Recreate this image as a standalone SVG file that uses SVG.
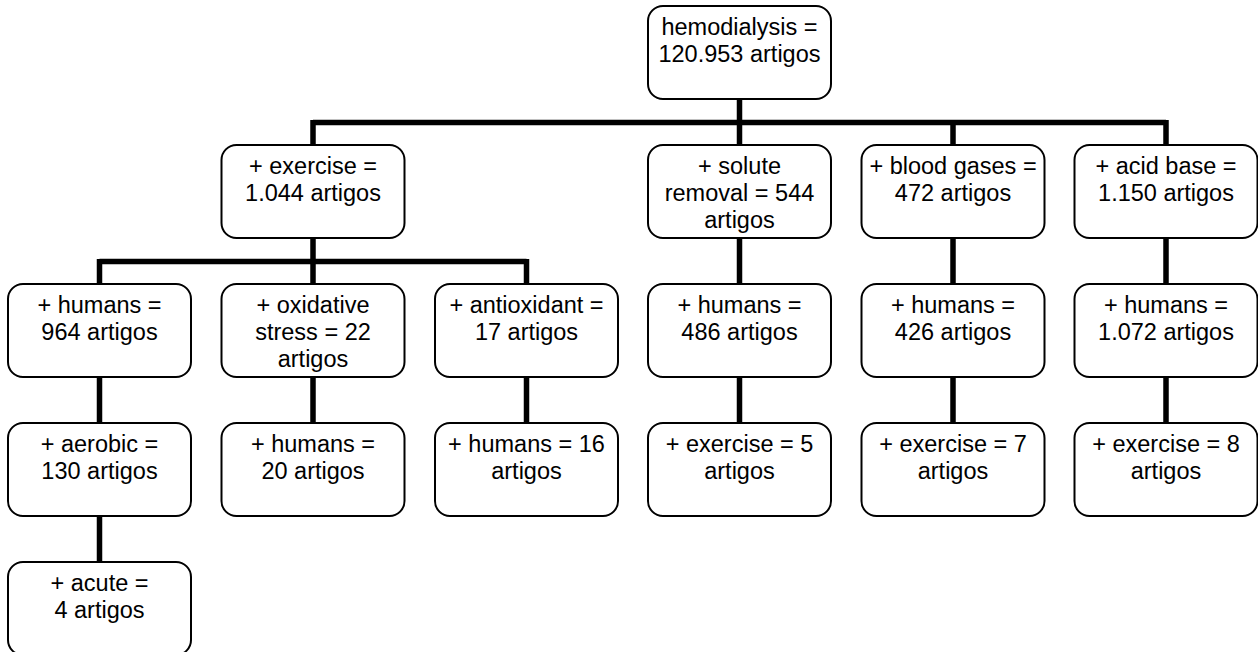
<svg xmlns="http://www.w3.org/2000/svg" width="1258" height="652" viewBox="0 0 1258 652">
<style>
.box{fill:#fff;stroke:#000;stroke-width:2}
.t{font-family:"Liberation Sans",Arial,sans-serif;font-size:23.5px;text-anchor:middle;fill:#000}
.c{fill:none;stroke:#000;stroke-width:5.5;stroke-linecap:butt}
</style>
<rect width="1258" height="652" fill="#fff"/>
<g id="connectors">
<path class="c" d="M739.5 99V122.5M313 122.5H1166M313 120V145M739.5 122.5V145M953 122.5V145M1166 120V145"/>
<path class="c" d="M313 238V261.5M99.5 261.5H526.5M99.5 259V284M313 261.5V284M526.5 259V284"/>
<path class="c" d="M99.5 377V423M99.5 516V562M313 377V423M526.5 377V423"/>
<path class="c" d="M739.5 238V284M739.5 377V423M953 238V284M953 377V423M1166 238V284M1166 377V423"/>
</g>
<g id="n-root"><rect class="box" x="648" y="6" width="183" height="93" rx="15"/><text class="t" x="739.5" y="35">hemodialysis =</text><text class="t" x="739.5" y="62">120.953 artigos</text></g>
<g id="n-exercise"><rect class="box" x="221.5" y="145" width="183" height="93" rx="15"/><text class="t" x="313" y="174">+ exercise =</text><text class="t" x="313" y="201">1.044 artigos</text></g>
<g id="n-solute"><rect class="box" x="648" y="145" width="183" height="93" rx="15"/><text class="t" x="739.5" y="174">+ solute</text><text class="t" x="739.5" y="201">removal = 544</text><text class="t" x="739.5" y="228">artigos</text></g>
<g id="n-blood"><rect class="box" x="861.5" y="145" width="183" height="93" rx="15"/><text class="t" x="953" y="174">+ blood gases =</text><text class="t" x="953" y="201">472 artigos</text></g>
<g id="n-acid"><rect class="box" x="1074.5" y="145" width="183" height="93" rx="15"/><text class="t" x="1166" y="174">+ acid base =</text><text class="t" x="1166" y="201">1.150 artigos</text></g>
<g id="n-humans1"><rect class="box" x="8" y="284" width="183" height="93" rx="15"/><text class="t" x="99.5" y="313">+ humans =</text><text class="t" x="99.5" y="340">964 artigos</text></g>
<g id="n-oxid"><rect class="box" x="221.5" y="284" width="183" height="93" rx="15"/><text class="t" x="313" y="313">+ oxidative</text><text class="t" x="313" y="340">stress = 22</text><text class="t" x="313" y="367">artigos</text></g>
<g id="n-antiox"><rect class="box" x="435" y="284" width="183" height="93" rx="15"/><text class="t" x="526.5" y="313">+ antioxidant =</text><text class="t" x="526.5" y="340">17 artigos</text></g>
<g id="n-humans-solute"><rect class="box" x="648" y="284" width="183" height="93" rx="15"/><text class="t" x="739.5" y="313">+ humans =</text><text class="t" x="739.5" y="340">486 artigos</text></g>
<g id="n-humans-blood"><rect class="box" x="861.5" y="284" width="183" height="93" rx="15"/><text class="t" x="953" y="313">+ humans =</text><text class="t" x="953" y="340">426 artigos</text></g>
<g id="n-humans-acid"><rect class="box" x="1074.5" y="284" width="183" height="93" rx="15"/><text class="t" x="1166" y="313">+ humans =</text><text class="t" x="1166" y="340">1.072 artigos</text></g>
<g id="n-aerobic"><rect class="box" x="8" y="423" width="183" height="93" rx="15"/><text class="t" x="99.5" y="452">+ aerobic =</text><text class="t" x="99.5" y="479">130 artigos</text></g>
<g id="n-humans-oxid"><rect class="box" x="221.5" y="423" width="183" height="93" rx="15"/><text class="t" x="313" y="452">+ humans =</text><text class="t" x="313" y="479">20 artigos</text></g>
<g id="n-humans-antiox"><rect class="box" x="435" y="423" width="183" height="93" rx="15"/><text class="t" x="526.5" y="452">+ humans = 16</text><text class="t" x="526.5" y="479">artigos</text></g>
<g id="n-ex-solute"><rect class="box" x="648" y="423" width="183" height="93" rx="15"/><text class="t" x="739.5" y="452">+ exercise = 5</text><text class="t" x="739.5" y="479">artigos</text></g>
<g id="n-ex-blood"><rect class="box" x="861.5" y="423" width="183" height="93" rx="15"/><text class="t" x="953" y="452">+ exercise = 7</text><text class="t" x="953" y="479">artigos</text></g>
<g id="n-ex-acid"><rect class="box" x="1074.5" y="423" width="183" height="93" rx="15"/><text class="t" x="1166" y="452">+ exercise = 8</text><text class="t" x="1166" y="479">artigos</text></g>
<g id="n-acute"><rect class="box" x="8" y="562" width="183" height="93" rx="15"/><text class="t" x="99.5" y="591">+ acute =</text><text class="t" x="99.5" y="618">4 artigos</text></g>
</svg>
